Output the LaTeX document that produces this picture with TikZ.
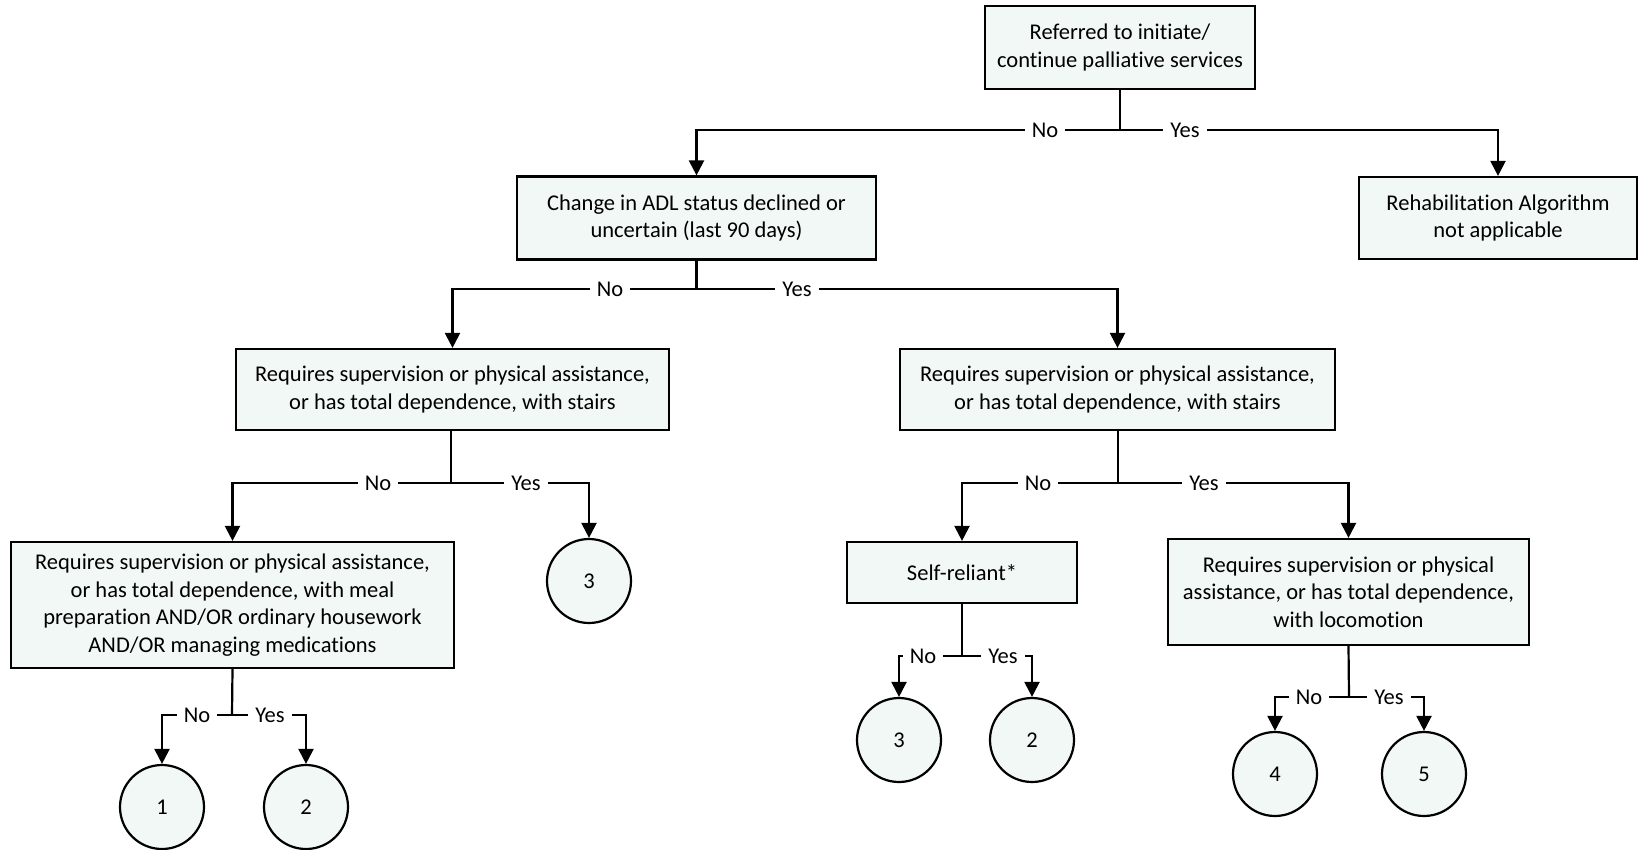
\documentclass[tikz,border=0pt]{standalone}
\usepackage{fontspec}
\setmainfont[Ligatures={NoCommon}]{Carlito}
\usetikzlibrary{arrows.meta}
\definecolor{boxfill}{RGB}{242,248,246}
\begin{document}
\begin{tikzpicture}[x=1pt,y=-1pt,
  every node/.style={font=\fontsize{22.5}{27.5}\selectfont},
  box/.style={draw=black,line width=2.2pt,fill=boxfill,align=center,inner sep=0pt},
  circ/.style={draw=black,line width=2.2pt,fill=boxfill,circle,minimum size=84pt,inner sep=0pt},
  lbl/.style={fill=white,inner xsep=7pt,inner ysep=1pt},
  ln/.style={line width=2.2pt},
  arr/.style={line width=2.2pt,-{Triangle[width=15pt,length=15pt]}}]
\useasboundingbox (0,0) rectangle (1638,849);
% boxes
\node[box,minimum width=270pt,minimum height=83pt] (top) at (1120,47.5) {Referred to initiate/\\continue palliative services};
\node[box,minimum width=359pt,minimum height=83pt] (adl) at (696.5,218) {Change in ADL status declined or\\uncertain (last 90 days)};
\node[box,minimum width=278pt,minimum height=82pt] (rehab) at (1498,218) {Rehabilitation Algorithm\\not applicable};
\node[box,minimum width=433pt,minimum height=81pt] (stl) at (452.5,389.5) {Requires supervision or physical assistance,\\or has total dependence, with stairs};
\node[box,minimum width=435pt,minimum height=81pt] (str) at (1117.5,389.5) {Requires supervision or physical assistance,\\or has total dependence, with stairs};
\node[box,minimum width=443pt,minimum height=126pt] (meal) at (232.5,605) {Requires supervision or physical assistance,\\or has total dependence, with meal\\preparation AND/OR ordinary housework\\AND/OR managing medications};
\node[box,minimum width=230pt,minimum height=61pt] (self) at (962,572.5) {Self-reliant*};
\node[box,minimum width=361pt,minimum height=106pt] (loco) at (1348.5,592) {Requires supervision or physical\\assistance, or has total dependence,\\with locomotion};
% circles
\node[circ] (c3a) at (589,581) {3};
\node[circ] (c1) at (162,807) {1};
\node[circ] (c2a) at (306,807) {2};
\node[circ] (c3b) at (899,740) {3};
\node[circ] (c2b) at (1032,740) {2};
\node[circ] (c4) at (1275,774) {4};
\node[circ] (c5) at (1424,774) {5};
% junctions
\coordinate (j1) at (1120,130);
\coordinate (j2) at (696.5,289);
\coordinate (j3) at (451,483);
\coordinate (j4) at (1118,483);
\coordinate (j5) at (232,715);
\coordinate (j6) at (962,656);
\coordinate (j7) at (1349,697);
% connectors
\draw[ln] (top.south) -- (j1);
\draw[arr] (j1) -| (adl.north);
\draw[arr] (j1) -| (rehab.north);
\draw[ln] (adl.south) -- (j2);
\draw[arr] (j2) -| (stl.north);
\draw[arr] (j2) -| (str.north);
\draw[ln] (j3 |- stl.south) -- (j3);
\draw[arr] (j3) -| (meal.north);
\draw[arr] (j3) -| (c3a.north);
\draw[ln] (j4 |- str.south) -- (j4);
\draw[arr] (j4) -| (self.north);
\draw[arr] (j4) -| (loco.north);
\draw[ln] (meal.south) -- (j5);
\draw[arr] (j5) -| (c1.north);
\draw[arr] (j5) -| (c2a.north);
\draw[ln] (self.south) -- (j6);
\draw[arr] (j6) -| (c3b.north);
\draw[arr] (j6) -| (c2b.north);
\draw[ln] (loco.south) -- (j7);
\draw[arr] (j7) -| (c4.north);
\draw[arr] (j7) -| (c5.north);
% labels
\node[lbl] (n1) at (1045,130) {No};
\node[lbl] (y1) at (1185,130) {Yes};
\node[lbl] (n2) at (610,289) {No};
\node[lbl] (y2) at (797,289) {Yes};
\node[lbl] (n3) at (378,483) {No};
\node[lbl] (y3) at (526,483) {Yes};
\node[lbl] (n4) at (1038,483) {No};
\node[lbl] (y4) at (1204,483) {Yes};
\node[lbl] (n5) at (197,715) {No};
\node[lbl] (y5) at (270,715) {Yes};
\node[lbl] (n6) at (923,656) {No};
\node[lbl] (y6) at (1003,656) {Yes};
\node[lbl] (n7) at (1309,697) {No};
\node[lbl] (y7) at (1389,697) {Yes};
\end{tikzpicture}
\end{document}
